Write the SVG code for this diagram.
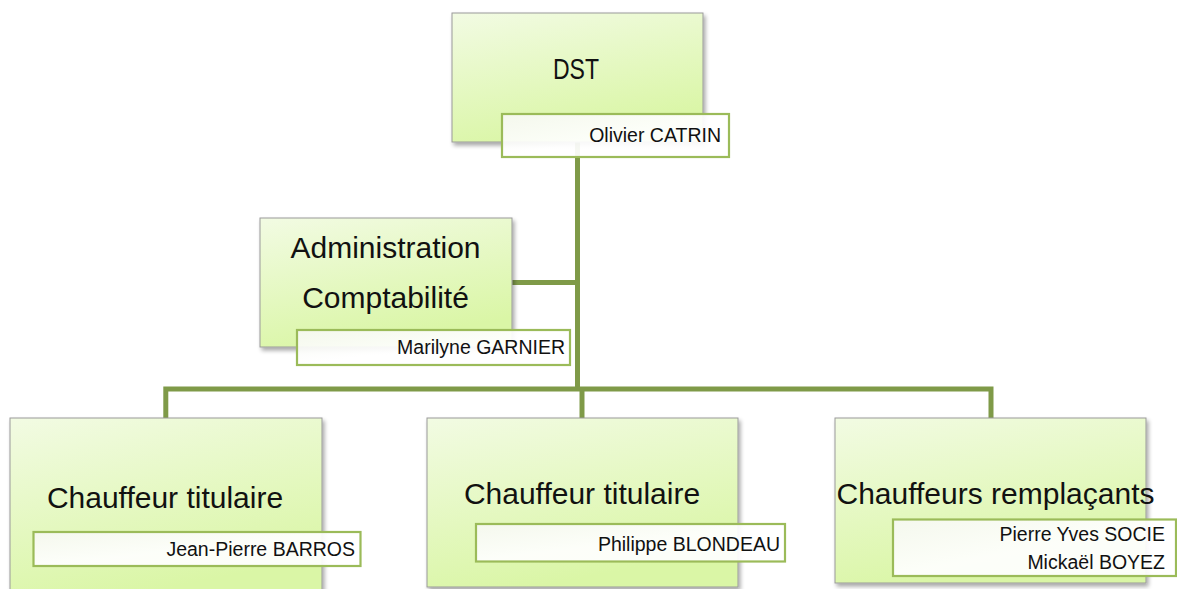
<svg xmlns="http://www.w3.org/2000/svg" width="1177" height="589" viewBox="0 0 1177 589">
<defs>
  <linearGradient id="boxGrad" x1="0" y1="0" x2="0.35" y2="1">
    <stop offset="0" stop-color="#f2fbe3"/>
    <stop offset="1" stop-color="#daf6a6"/>
  </linearGradient>
  <linearGradient id="nameGrad" x1="0" y1="0" x2="1" y2="1">
    <stop offset="0" stop-color="#f6f8f1"/>
    <stop offset="0.5" stop-color="#ffffff"/>
    <stop offset="1" stop-color="#ffffff"/>
  </linearGradient>
  <filter id="shadow" x="-10%" y="-10%" width="125%" height="125%">
    <feGaussianBlur in="SourceAlpha" stdDeviation="2"/>
    <feOffset dx="2" dy="3" result="b"/>
    <feComponentTransfer><feFuncA type="linear" slope="0.35"/></feComponentTransfer>
    <feMerge><feMergeNode/><feMergeNode in="SourceGraphic"/></feMerge>
  </filter>
</defs>
<style>
  .box { fill: url(#boxGrad); stroke: #9a9a9a; stroke-width: 1; filter: url(#shadow); }
  .name { fill: url(#nameGrad); fill-opacity: 0.93; stroke: #9bbb59; stroke-width: 2.2; }
  .title { font-family: "Liberation Sans", Arial, sans-serif; font-size: 30px; fill: #111; text-anchor: middle; }
  .person { font-family: "Liberation Sans", Arial, sans-serif; font-size: 19.5px; fill: #111; text-anchor: end; }
  .conn { fill: none; stroke: #7f9a48; stroke-width: 5; stroke-linejoin: miter; }
</style>

<g id="connectors">
  <path class="conn" d="M577.5,142 V389"/>
  <path class="conn" d="M511,282.5 H578"/>
  <path class="conn" d="M165.8,418 V389 H991 V418"/>
  <path class="conn" d="M582,389 V418"/>
</g>

<g id="node-dst">
  <rect class="box" x="452" y="13" width="251" height="129"/>
  <text class="title" x="576" y="79" font-size="28" textLength="46" lengthAdjust="spacingAndGlyphs">DST</text>
  <rect class="name" x="502" y="114" width="227" height="43"/>
  <text class="person" x="721" y="142">Olivier CATRIN</text>
</g>

<g id="node-admin">
  <rect class="box" x="260" y="218" width="252" height="129"/>
  <text class="title" x="385.5" y="258">Administration</text>
  <text class="title" x="385.5" y="308">Comptabilité</text>
  <rect class="name" x="297" y="330" width="273" height="35"/>
  <text class="person" x="565" y="354">Marilyne GARNIER</text>
</g>

<g id="node-chauffeur1">
  <rect class="box" x="10" y="418" width="312" height="180"/>
  <text class="title" x="165" y="507.5">Chauffeur titulaire</text>
  <rect class="name" x="33.5" y="532" width="327" height="34"/>
  <text class="person" x="355" y="556">Jean-Pierre BARROS</text>
</g>

<g id="node-chauffeur2">
  <rect class="box" x="427" y="418" width="311" height="169"/>
  <text class="title" x="582" y="504">Chauffeur titulaire</text>
  <rect class="name" x="476" y="524" width="309" height="37.5"/>
  <text class="person" x="780" y="551">Philippe BLONDEAU</text>
</g>

<g id="node-remplacants">
  <rect class="box" x="835" y="418" width="311" height="165"/>
  <text class="title" x="995.5" y="503.5" font-size="27.7">Chauffeurs remplaçants</text>
  <rect class="name" x="893" y="519.5" width="283" height="56.5"/>
  <text class="person" x="1165" y="541">Pierre Yves SOCIE</text>
  <text class="person" x="1165" y="569">Mickaël BOYEZ</text>
</g>
</svg>
